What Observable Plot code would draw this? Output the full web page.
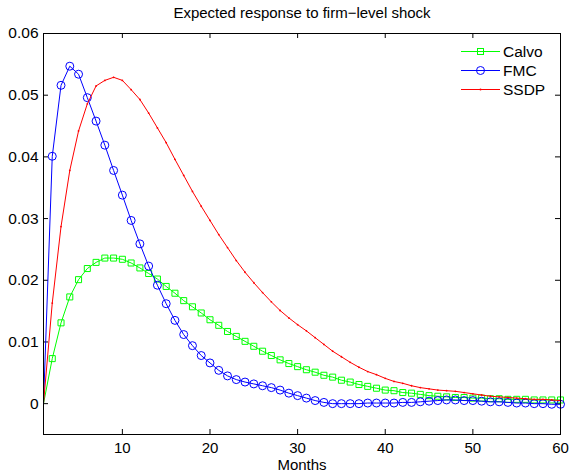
<!DOCTYPE html>
<html>
<head>
<meta charset="utf-8">
<script src="https://cdn.jsdelivr.net/npm/d3@7"></script>
<script src="https://cdn.jsdelivr.net/npm/@observablehq/plot@0.6"></script>
<style>
  body { margin: 0; background: white; }
  #wrap { position: relative; width: 570px; height: 472px; font-family: "Liberation Sans", Arial, sans-serif; }
  #legend { position: absolute; left: 461px; top: 42px; font-size: 15.5px; line-height: 19px; }
  #legend .item { display: flex; align-items: center; height: 19px; }
  #legend svg { margin-right: 3px; }
</style>
</head>
<body>
<div id="wrap"><div id="legend"></div></div>
<script>
const title = "Expected response to firm\u2212level shock";
const xLabel = "Months";
const seriesNames = ["Calvo", "FMC", "SSDP"];
const seriesColors = ["#00ff00", "#0000ff", "#ff0000"];
const months = d3.range(1, 61);
const xTicks = [10, 20, 30, 40, 50, 60];
const yTicks = [0, 0.01, 0.02, 0.03, 0.04, 0.05, 0.06];
const yTickLabels = ["0", "0.01", "0.02", "0.03", "0.04", "0.05", "0.06"];

const calvo = [0, .0073, .0131, .0173, .0201, .0219, .0229, .0236, .0236, .0234,
  .0228, .0220, .0211, .0202, .0190, .0179, .0167, .0157, .0147, .0136,
  .0127, .0117, .0109, .0101, .0093, .0085, .0078, .0071, .0065, .0060,
  .0055, .0051, .0046, .0043, .0038, .0035, .0031, .0028, .0025, .0022,
  .0021, .0018, .0017, .0015, .0013, .0012, .0011, .0010, .0010, .0009,
  .0009, .0008, .0008, .0007, .0007, .0007, .0006, .0006, .0006, .0006];
const fmc = [0, .0401, .0516, .0547, .0534, .0496, .0458, .0419, .0378, .0338,
  .0297, .0259, .0223, .0192, .0162, .0135, .0112, .0094, .0078, .0066,
  .0054, .0045, .0039, .0035, .0032, .0029, .0026, .0022, .0017, .0013,
  .0009, .0005, .0002, .0000, .0000, .0000, .0000, .0001, .0001, .0001,
  .0001, .0002, .0002, .0003, .0004, .0005, .0006, .0006, .0005, .0005,
  .0004, .0003, .0003, .0002, .0001, .0001, .0000, .0000, -.0001, -.0001];
const ssdp = [0, .0163, .0287, .0378, .0442, .0486, .0515, .0524, .0529, .0524,
  .0509, .0493, .0471, .0447, .0423, .0396, .0370, .0344, .0320, .0297,
  .0274, .0253, .0232, .0213, .0196, .0180, .0165, .0151, .0139, .0128,
  .0118, .0107, .0096, .0085, .0076, .0067, .0059, .0052, .0047, .0041,
  .0036, .0033, .0029, .0026, .0024, .0022, .0021, .0020, .0018, .0016,
  .0014, .0012, .0011, .0010, .0009, .0008, .0007, .0007, .0006, .0005];

const W = 570, H = 472, mL = 43, mR = 10, mT = 33, mB = 38;
const innerW = W - mL - mR, innerH = H - mT - mB;
const tick = 5;

const toRows = (vals) => months.map((m, i) => ({m, v: vals[i]}));
const cRows = toRows(calvo), fRows = toRows(fmc), sRows = toRows(ssdp);
const interior = (rows) => rows.filter(d => d.m > 1);

const chart = Plot.plot({
  width: W, height: H,
  marginLeft: mL, marginRight: mR, marginTop: mT, marginBottom: mB,
  style: {fontFamily: '"Liberation Sans", Arial, sans-serif', fontSize: "15px", background: "white", color: "black"},
  x: {domain: [1, 60], axis: null},
  y: {domain: [-0.005, 0.06], axis: null},
  marks: [
    Plot.axisX({anchor: "bottom", ticks: xTicks, tickSize: 0, tickPadding: 8, label: null, fontSize: 15}),
    Plot.axisY({anchor: "left", ticks: yTicks, tickSize: 0, tickPadding: 5, label: null, fontSize: 15.5,
      tickFormat: (d) => yTickLabels[yTicks.indexOf(d)] ?? d}),
    Plot.tickX(xTicks, {x: d => d, insetTop: innerH - tick, stroke: "black"}),
    Plot.tickX(xTicks, {x: d => d, insetBottom: innerH - tick, stroke: "black"}),
    Plot.tickY(yTicks, {y: d => d, insetRight: innerW - tick, stroke: "black"}),
    Plot.tickY(yTicks, {y: d => d, insetLeft: innerW - tick, stroke: "black"}),
    Plot.line(cRows, {x: "m", y: "v", stroke: seriesColors[0], strokeWidth: 1}),
    Plot.dot(interior(cRows), {x: "m", y: "v", symbol: "square", r: 3.4, stroke: seriesColors[0], strokeWidth: 1, fill: "none"}),
    Plot.line(fRows, {x: "m", y: "v", stroke: seriesColors[1], strokeWidth: 1}),
    Plot.dot(interior(fRows), {x: "m", y: "v", symbol: "circle", r: 4, stroke: seriesColors[1], strokeWidth: 1, fill: "none"}),
    Plot.line(sRows, {x: "m", y: "v", stroke: seriesColors[2], strokeWidth: 1}),
    Plot.dot(interior(sRows), {x: "m", y: "v", r: 0.9, fill: seriesColors[2], stroke: "none"}),
    Plot.frame({stroke: "black", strokeWidth: 1}),
    Plot.text([title], {frameAnchor: "top", dy: -20, lineAnchor: "middle", fontSize: 15, fill: "black"}),
    Plot.text([xLabel], {frameAnchor: "bottom", dy: 31, lineAnchor: "middle", fontSize: 15, fill: "black"})
  ]
});
const wrap = document.getElementById("wrap");
wrap.insertBefore(chart, wrap.firstChild);

// Legend
const legend = document.getElementById("legend");
const markerSvg = (i) => {
  const c = seriesColors[i];
  let m = "";
  if (i === 0) m = `<rect x="16.5" y="6.5" width="6" height="6" fill="none" stroke="${c}"/>`;
  else if (i === 1) m = `<circle cx="19.5" cy="9.5" r="4" fill="none" stroke="${c}"/>`;
  else m = `<circle cx="19.5" cy="9.5" r="1" fill="${c}"/>`;
  return `<svg width="39" height="19"><line x1="0" x2="39" y1="9.5" y2="9.5" stroke="${c}" stroke-width="1"/>${m}</svg>`;
};
seriesNames.forEach((n, i) => {
  const d = document.createElement("div");
  d.className = "item";
  d.innerHTML = markerSvg(i) + `<span>${n}</span>`;
  legend.appendChild(d);
});
</script>
</body>
</html>
